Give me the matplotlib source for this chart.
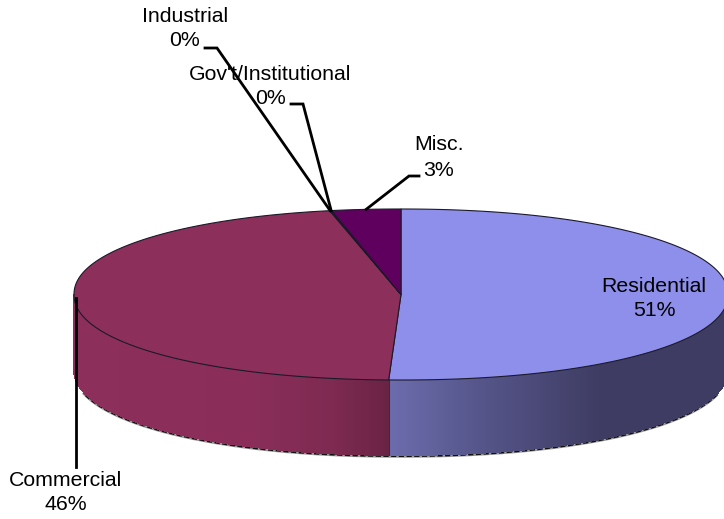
#!/usr/bin/env python3
# -*- coding: utf-8 -*-
import numpy as np
import matplotlib
matplotlib.use('Agg')
import matplotlib.pyplot as plt

# slices, clockwise from 12 o'clock
categories = ['Residential', 'Commercial', 'Industrial', "Gov't/Institutional", 'Misc.']
shares = [50.6, 45.9, 0.05, 0.05, 3.4]
pct_labels = ['51%', '46%', '0%', '0%', '3%']

top_colors = ['#8E8EEB', '#8C2F5B', '#8C2F5B', '#8C2F5B', '#5F005F']

# pie geometry in pixels
cx, cy = 401, 294.5
rx, ry = 327, 85.5
depth = 75
# the outline is a little fuller than an ellipse
outline_power = 2.1

# side shading, (x pixel, colour)
res_x = [390, 480, 600, 730]
res_rgb = [(0x6C, 0x6C, 0xAD), (0x55, 0x55, 0x8A), (0x3E, 0x3C, 0x62), (0x3E, 0x3C, 0x62)]
com_x = [74, 250, 330, 390]
com_rgb = [(0x8C, 0x2F, 0x5B), (0x8A, 0x2E, 0x59), (0x7E, 0x2A, 0x51), (0x6A, 0x23, 0x44)]

# label centre x, first line y, second line y
label_pos = {
    'Residential': (654, 286, 310),
    'Commercial': (66, 481, 505),
    'Industrial': (185, 17, 41),
    "Gov't/Institutional": (270.5, 74, 98),
    'Misc.': (439, 145, 170),
}
# elbows of the leader lines
leaders = {
    'Commercial': [(None, 467)],
    'Industrial': [(217, 48), (205, 48)],
    "Gov't/Institutional": [(303, 104), (291, 104)],
    'Misc.': [(409, 176), (419, 176)],
}


def pt(theta):
    t = np.radians(np.asarray(theta, dtype=float))
    s = np.sin(t)
    c = np.cos(t)
    h = (1 - np.abs(s) ** outline_power) ** (1 / outline_power)
    return cx + rx * s, cy - ry * np.sign(c) * h


def side_color(x, xs, rgb):
    c = [np.interp(x, xs, [v[i] for v in rgb]) / 255 for i in range(3)]
    return tuple(c)


fig = plt.figure(figsize=(7.24, 5.19), dpi=100)
ax = fig.add_axes([0, 0, 1, 1])
ax.set_xlim(0, 724)
ax.set_ylim(519, 0)
ax.axis('off')

edges = np.concatenate([[0], np.cumsum(shares)]) / np.sum(shares) * 360
mids = (edges[:-1] + edges[1:]) / 2

# rough shadow fringe under the bottom rim
th = np.linspace(105, 256, 400)
bx, by = pt(th)
ax.plot(bx, by + depth + 1.6, color='#999999', lw=1.7, zorder=1)
ax.plot(bx, by + depth + 1.0, color='#111111', lw=1.5, ls=(0, (2.5, 1.2)), zorder=1.5)

# rim, thin strips so the shading follows x
for lo, hi, xs, rgb in [(90, edges[1], res_x, res_rgb), (edges[1], 270, com_x, com_rgb)]:
    th = np.linspace(lo, hi, 161)
    for a, b in zip(th[:-1], th[1:]):
        xa, ya = pt(a)
        xb, yb = pt(b)
        col = side_color((xa + xb) / 2, xs, rgb)
        ax.fill([xa, xb, xb, xa], [ya, yb, yb + depth, ya + depth],
                facecolor=col, edgecolor=col, lw=0.6, antialiased=False, zorder=2)
xb, yb = pt(edges[1])
ax.plot([xb, xb], [yb, yb + depth], color='#3A2A45', lw=0.8, zorder=3)

# top face
for i in range(len(shares)):
    th = np.linspace(edges[i], edges[i + 1], 200)
    x, y = pt(th)
    ax.fill(np.r_[cx, x], np.r_[cy, y], facecolor=top_colors[i],
            edgecolor='#1A1A2A', lw=0.8, zorder=4)

# labels
for i, name in enumerate(categories):
    lx, y1, y2 = label_pos[name]
    ax.text(lx, y1, name, ha='center', va='center', family='Liberation Sans',
            fontsize=15.3, color='black', zorder=5)
    ax.text(lx, y2, pct_labels[i], ha='center', va='center', family='Liberation Sans',
            fontsize=15.3, color='black', zorder=5)

# leader lines, drawn over the text like the original
for i, name in enumerate(categories):
    if name not in leaders:
        continue
    x0, y0 = pt(mids[i])
    path = [(x0 if p[0] is None else p[0], p[1]) for p in leaders[name]]
    xs = [x0] + [p[0] for p in path]
    ys = [y0] + [p[1] for p in path]
    if name == 'Commercial':
        xs = [x0 + 1, x0 + 1]
        ys = [cy + 3, path[0][1]]
    ax.plot(xs, ys, color='black', lw=2.0, zorder=6, solid_joinstyle='miter')

fig.savefig('out.png', dpi=100)
plt.close(fig)
